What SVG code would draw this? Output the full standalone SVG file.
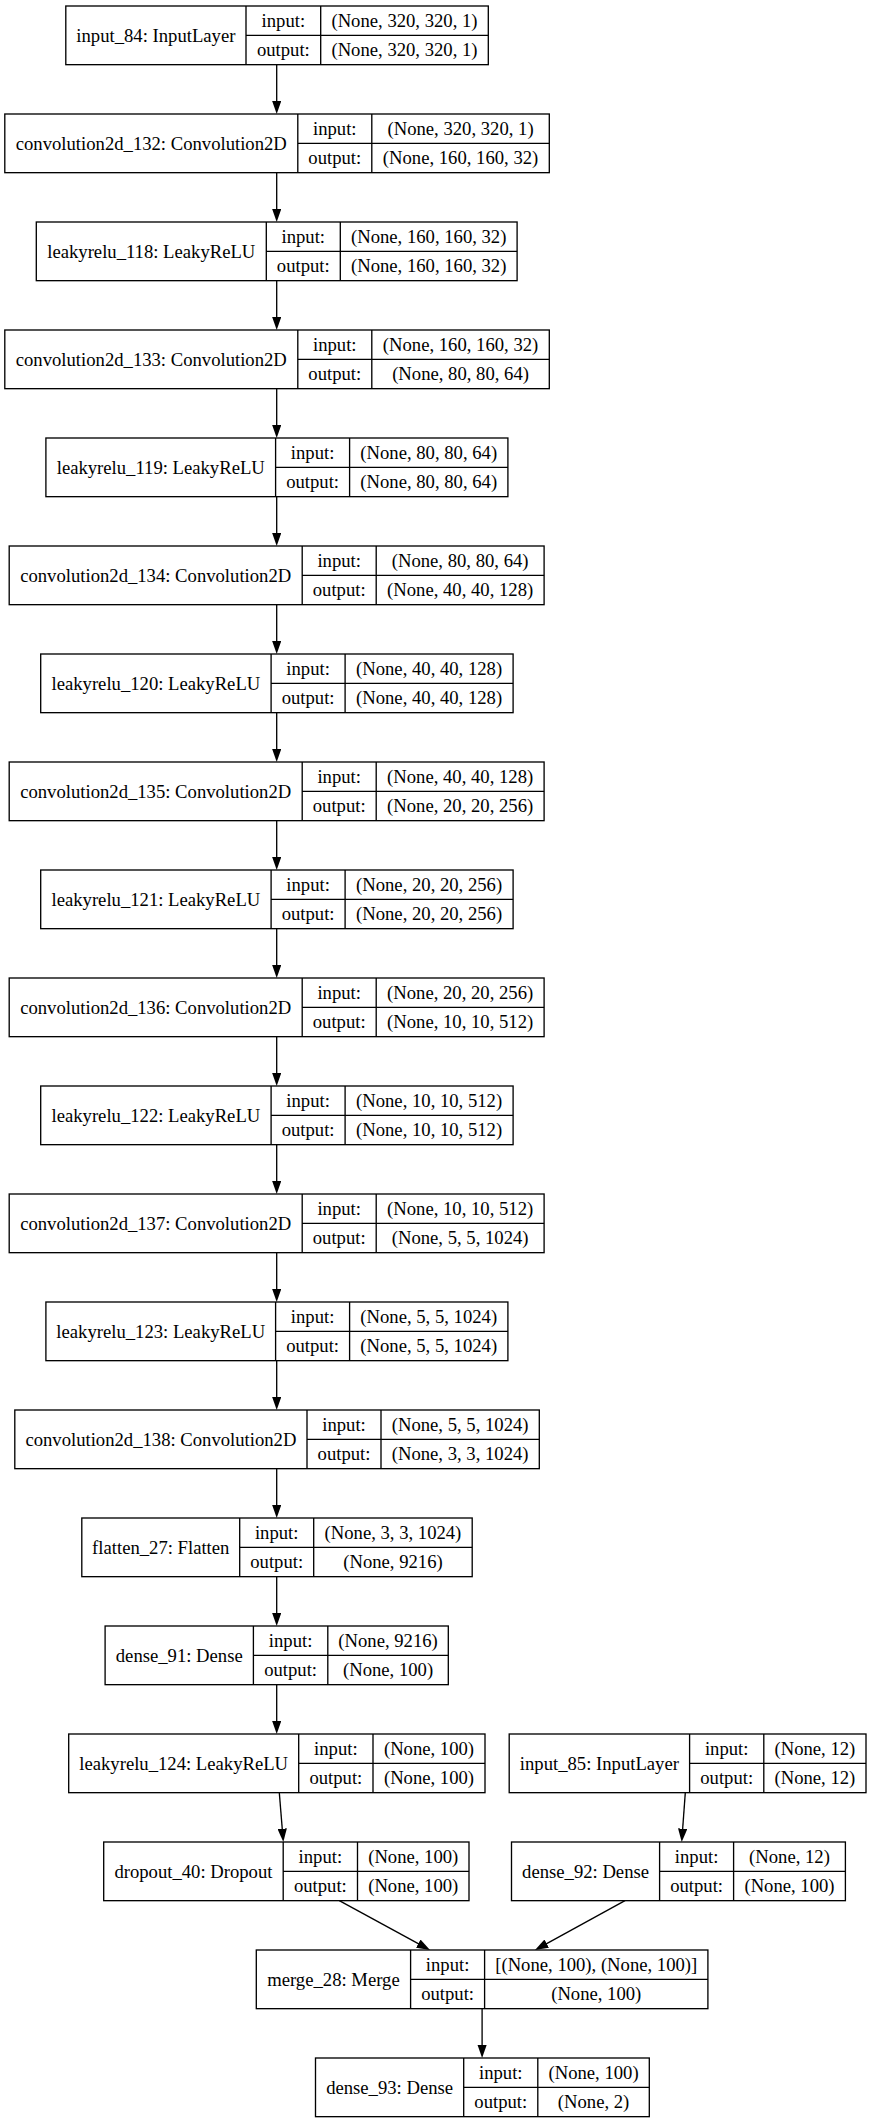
<svg xmlns="http://www.w3.org/2000/svg" width="872" height="2123" viewBox="0 0 872 2123">
<style>
.bg{fill:#fff}
.box{fill:#fff;stroke:#000;stroke-width:1.33}
.div{fill:none;stroke:#000;stroke-width:1.33}
text{font-family:"Liberation Serif","Times New Roman",serif;font-size:18.67px;fill:#000;text-anchor:middle}
.edge{fill:none;stroke:#000;stroke-width:1.33;marker-end:url(#ah)}
</style>
<defs>
<marker id="ah" viewBox="0 0 10 7" refX="7" refY="3.5" markerWidth="13.33" markerHeight="9.33" markerUnits="userSpaceOnUse" orient="auto">
<path d="M0,0 L10,3.5 L0,7 z" fill="#000"/>
</marker>
</defs>
<rect class="bg" x="0" y="0" width="872" height="2123"/>

<g id="edges">
<path class="edge" d="M276.7,64.67 V110"/>
<path class="edge" d="M276.7,172.67 V218"/>
<path class="edge" d="M276.7,280.67 V326"/>
<path class="edge" d="M276.7,388.67 V434"/>
<path class="edge" d="M276.7,496.67 V542"/>
<path class="edge" d="M276.7,604.67 V650"/>
<path class="edge" d="M276.7,712.67 V758"/>
<path class="edge" d="M276.7,820.67 V866"/>
<path class="edge" d="M276.7,928.67 V974"/>
<path class="edge" d="M276.7,1036.67 V1082"/>
<path class="edge" d="M276.7,1144.67 V1190"/>
<path class="edge" d="M276.7,1252.67 V1298"/>
<path class="edge" d="M276.7,1360.67 V1406"/>
<path class="edge" d="M276.7,1468.67 V1514"/>
<path class="edge" d="M276.7,1576.67 V1622"/>
<path class="edge" d="M276.7,1684.67 V1730"/>
<path class="edge" d="M279.3,1792.67 L283.0,1838"/>
<path class="edge" d="M685.3,1792.67 L682.0,1838"/>
<path class="edge" d="M339.3,1900.67 L426.5,1948.1"/>
<path class="edge" d="M625,1900.67 L538.5,1948.1"/>
<path class="edge" d="M482.1,2008.67 V2054"/>
</g>

<g id="input_84">
<rect class="box" x="65.8" y="6" width="422.5" height="58.67"/>
<path class="div" d="M246,6 V64.67 M320.7,6 V64.67 M246,35.33 H488.3"/>
<text x="155.9" y="41.5">input_84: InputLayer</text>
<text x="283.35" y="26.67">input:</text>
<text x="283.35" y="56">output:</text>
<text x="404.5" y="26.67">(None, 320, 320, 1)</text>
<text x="404.5" y="56">(None, 320, 320, 1)</text>
</g>

<g id="convolution2d_132">
<rect class="box" x="4.8" y="114" width="544.5" height="58.67"/>
<path class="div" d="M297.8,114 V172.67 M371.8,114 V172.67 M297.8,143.33 H549.3"/>
<text x="151.3" y="149.5">convolution2d_132: Convolution2D</text>
<text x="334.8" y="134.67">input:</text>
<text x="334.8" y="164">output:</text>
<text x="460.55" y="134.67">(None, 320, 320, 1)</text>
<text x="460.55" y="164">(None, 160, 160, 32)</text>
</g>

<g id="leakyrelu_118">
<rect class="box" x="36.3" y="222" width="480.8" height="58.67"/>
<path class="div" d="M266.3,222 V280.67 M340.3,222 V280.67 M266.3,251.33 H517.1"/>
<text x="151.3" y="257.5">leakyrelu_118: LeakyReLU</text>
<text x="303.3" y="242.67">input:</text>
<text x="303.3" y="272">output:</text>
<text x="428.7" y="242.67">(None, 160, 160, 32)</text>
<text x="428.7" y="272">(None, 160, 160, 32)</text>
</g>

<g id="convolution2d_133">
<rect class="box" x="4.8" y="330" width="544.5" height="58.67"/>
<path class="div" d="M297.8,330 V388.67 M371.8,330 V388.67 M297.8,359.33 H549.3"/>
<text x="151.3" y="365.5">convolution2d_133: Convolution2D</text>
<text x="334.8" y="350.67">input:</text>
<text x="334.8" y="380">output:</text>
<text x="460.55" y="350.67">(None, 160, 160, 32)</text>
<text x="460.55" y="380">(None, 80, 80, 64)</text>
</g>

<g id="leakyrelu_119">
<rect class="box" x="45.9" y="438" width="462" height="58.67"/>
<path class="div" d="M275.6,438 V496.67 M349.6,438 V496.67 M275.6,467.33 H507.9"/>
<text x="160.75" y="473.5">leakyrelu_119: LeakyReLU</text>
<text x="312.6" y="458.67">input:</text>
<text x="312.6" y="488">output:</text>
<text x="428.75" y="458.67">(None, 80, 80, 64)</text>
<text x="428.75" y="488">(None, 80, 80, 64)</text>
</g>

<g id="convolution2d_134">
<rect class="box" x="9.2" y="546" width="534.9" height="58.67"/>
<path class="div" d="M302.2,546 V604.67 M376.2,546 V604.67 M302.2,575.33 H544.1"/>
<text x="155.7" y="581.5">convolution2d_134: Convolution2D</text>
<text x="339.2" y="566.67">input:</text>
<text x="339.2" y="596">output:</text>
<text x="460.15" y="566.67">(None, 80, 80, 64)</text>
<text x="460.15" y="596">(None, 40, 40, 128)</text>
</g>

<g id="leakyrelu_120">
<rect class="box" x="40.7" y="654" width="472.4" height="58.67"/>
<path class="div" d="M271.1,654 V712.67 M345.1,654 V712.67 M271.1,683.33 H513.1"/>
<text x="155.9" y="689.5">leakyrelu_120: LeakyReLU</text>
<text x="308.1" y="674.67">input:</text>
<text x="308.1" y="704">output:</text>
<text x="429.1" y="674.67">(None, 40, 40, 128)</text>
<text x="429.1" y="704">(None, 40, 40, 128)</text>
</g>

<g id="convolution2d_135">
<rect class="box" x="9.2" y="762" width="534.9" height="58.67"/>
<path class="div" d="M302.2,762 V820.67 M376.2,762 V820.67 M302.2,791.33 H544.1"/>
<text x="155.7" y="797.5">convolution2d_135: Convolution2D</text>
<text x="339.2" y="782.67">input:</text>
<text x="339.2" y="812">output:</text>
<text x="460.15" y="782.67">(None, 40, 40, 128)</text>
<text x="460.15" y="812">(None, 20, 20, 256)</text>
</g>

<g id="leakyrelu_121">
<rect class="box" x="40.7" y="870" width="472.4" height="58.67"/>
<path class="div" d="M271.1,870 V928.67 M345.1,870 V928.67 M271.1,899.33 H513.1"/>
<text x="155.9" y="905.5">leakyrelu_121: LeakyReLU</text>
<text x="308.1" y="890.67">input:</text>
<text x="308.1" y="920">output:</text>
<text x="429.1" y="890.67">(None, 20, 20, 256)</text>
<text x="429.1" y="920">(None, 20, 20, 256)</text>
</g>

<g id="convolution2d_136">
<rect class="box" x="9.2" y="978" width="534.9" height="58.67"/>
<path class="div" d="M302.2,978 V1036.67 M376.2,978 V1036.67 M302.2,1007.33 H544.1"/>
<text x="155.7" y="1013.5">convolution2d_136: Convolution2D</text>
<text x="339.2" y="998.67">input:</text>
<text x="339.2" y="1028">output:</text>
<text x="460.15" y="998.67">(None, 20, 20, 256)</text>
<text x="460.15" y="1028">(None, 10, 10, 512)</text>
</g>

<g id="leakyrelu_122">
<rect class="box" x="40.7" y="1086" width="472.4" height="58.67"/>
<path class="div" d="M271.1,1086 V1144.67 M345.1,1086 V1144.67 M271.1,1115.33 H513.1"/>
<text x="155.9" y="1121.5">leakyrelu_122: LeakyReLU</text>
<text x="308.1" y="1106.67">input:</text>
<text x="308.1" y="1136">output:</text>
<text x="429.1" y="1106.67">(None, 10, 10, 512)</text>
<text x="429.1" y="1136">(None, 10, 10, 512)</text>
</g>

<g id="convolution2d_137">
<rect class="box" x="9.2" y="1194" width="534.9" height="58.67"/>
<path class="div" d="M302.2,1194 V1252.67 M376.2,1194 V1252.67 M302.2,1223.33 H544.1"/>
<text x="155.7" y="1229.5">convolution2d_137: Convolution2D</text>
<text x="339.2" y="1214.67">input:</text>
<text x="339.2" y="1244">output:</text>
<text x="460.15" y="1214.67">(None, 10, 10, 512)</text>
<text x="460.15" y="1244">(None, 5, 5, 1024)</text>
</g>

<g id="leakyrelu_123">
<rect class="box" x="45.9" y="1302" width="462" height="58.67"/>
<path class="div" d="M275.6,1302 V1360.67 M349.6,1302 V1360.67 M275.6,1331.33 H507.9"/>
<text x="160.75" y="1337.5">leakyrelu_123: LeakyReLU</text>
<text x="312.6" y="1322.67">input:</text>
<text x="312.6" y="1352">output:</text>
<text x="428.75" y="1322.67">(None, 5, 5, 1024)</text>
<text x="428.75" y="1352">(None, 5, 5, 1024)</text>
</g>

<g id="convolution2d_138">
<rect class="box" x="14.8" y="1410" width="524.5" height="58.67"/>
<path class="div" d="M307,1410 V1468.67 M381,1410 V1468.67 M307,1439.33 H539.3"/>
<text x="160.9" y="1445.5">convolution2d_138: Convolution2D</text>
<text x="344" y="1430.67">input:</text>
<text x="344" y="1460">output:</text>
<text x="460.15" y="1430.67">(None, 5, 5, 1024)</text>
<text x="460.15" y="1460">(None, 3, 3, 1024)</text>
</g>

<g id="flatten_27">
<rect class="box" x="81.8" y="1518" width="390.4" height="58.67"/>
<path class="div" d="M239.7,1518 V1576.67 M313.7,1518 V1576.67 M239.7,1547.33 H472.2"/>
<text x="160.75" y="1553.5">flatten_27: Flatten</text>
<text x="276.7" y="1538.67">input:</text>
<text x="276.7" y="1568">output:</text>
<text x="392.95" y="1538.67">(None, 3, 3, 1024)</text>
<text x="392.95" y="1568">(None, 9216)</text>
</g>

<g id="dense_91">
<rect class="box" x="105.1" y="1626" width="343.2" height="58.67"/>
<path class="div" d="M253.4,1626 V1684.67 M327.8,1626 V1684.67 M253.4,1655.33 H448.3"/>
<text x="179.25" y="1661.5">dense_91: Dense</text>
<text x="290.6" y="1646.67">input:</text>
<text x="290.6" y="1676">output:</text>
<text x="388.05" y="1646.67">(None, 9216)</text>
<text x="388.05" y="1676">(None, 100)</text>
</g>

<g id="leakyrelu_124">
<rect class="box" x="68.7" y="1734" width="416.3" height="58.67"/>
<path class="div" d="M298.7,1734 V1792.67 M373,1734 V1792.67 M298.7,1763.33 H485"/>
<text x="183.7" y="1769.5">leakyrelu_124: LeakyReLU</text>
<text x="335.85" y="1754.67">input:</text>
<text x="335.85" y="1784">output:</text>
<text x="429" y="1754.67">(None, 100)</text>
<text x="429" y="1784">(None, 100)</text>
</g>

<g id="input_85">
<rect class="box" x="509.2" y="1734" width="356.8" height="58.67"/>
<path class="div" d="M689.6,1734 V1792.67 M763.8,1734 V1792.67 M689.6,1763.33 H866"/>
<text x="599.4" y="1769.5">input_85: InputLayer</text>
<text x="726.7" y="1754.67">input:</text>
<text x="726.7" y="1784">output:</text>
<text x="814.9" y="1754.67">(None, 12)</text>
<text x="814.9" y="1784">(None, 12)</text>
</g>

<g id="dropout_40">
<rect class="box" x="103.7" y="1842" width="365.3" height="58.67"/>
<path class="div" d="M283.2,1842 V1900.67 M357.5,1842 V1900.67 M283.2,1871.33 H469"/>
<text x="193.45" y="1877.5">dropout_40: Dropout</text>
<text x="320.35" y="1862.67">input:</text>
<text x="320.35" y="1892">output:</text>
<text x="413.25" y="1862.67">(None, 100)</text>
<text x="413.25" y="1892">(None, 100)</text>
</g>

<g id="dense_92">
<rect class="box" x="511.5" y="1842" width="333.9" height="58.67"/>
<path class="div" d="M659.6,1842 V1900.67 M733.6,1842 V1900.67 M659.6,1871.33 H845.4"/>
<text x="585.55" y="1877.5">dense_92: Dense</text>
<text x="696.6" y="1862.67">input:</text>
<text x="696.6" y="1892">output:</text>
<text x="789.5" y="1862.67">(None, 12)</text>
<text x="789.5" y="1892">(None, 100)</text>
</g>

<g id="merge_28">
<rect class="box" x="256.3" y="1950" width="451.6" height="58.67"/>
<path class="div" d="M410.6,1950 V2008.67 M484.6,1950 V2008.67 M410.6,1979.33 H707.9"/>
<text x="333.45" y="1985.5">merge_28: Merge</text>
<text x="447.6" y="1970.67">input:</text>
<text x="447.6" y="2000">output:</text>
<text x="596.25" y="1970.67">[(None, 100), (None, 100)]</text>
<text x="596.25" y="2000">(None, 100)</text>
</g>

<g id="dense_93">
<rect class="box" x="315.5" y="2058" width="333.8" height="58.67"/>
<path class="div" d="M463.7,2058 V2116.67 M537.8,2058 V2116.67 M463.7,2087.33 H649.3"/>
<text x="389.6" y="2093.5">dense_93: Dense</text>
<text x="500.75" y="2078.67">input:</text>
<text x="500.75" y="2108">output:</text>
<text x="593.55" y="2078.67">(None, 100)</text>
<text x="593.55" y="2108">(None, 2)</text>
</g>
</svg>
